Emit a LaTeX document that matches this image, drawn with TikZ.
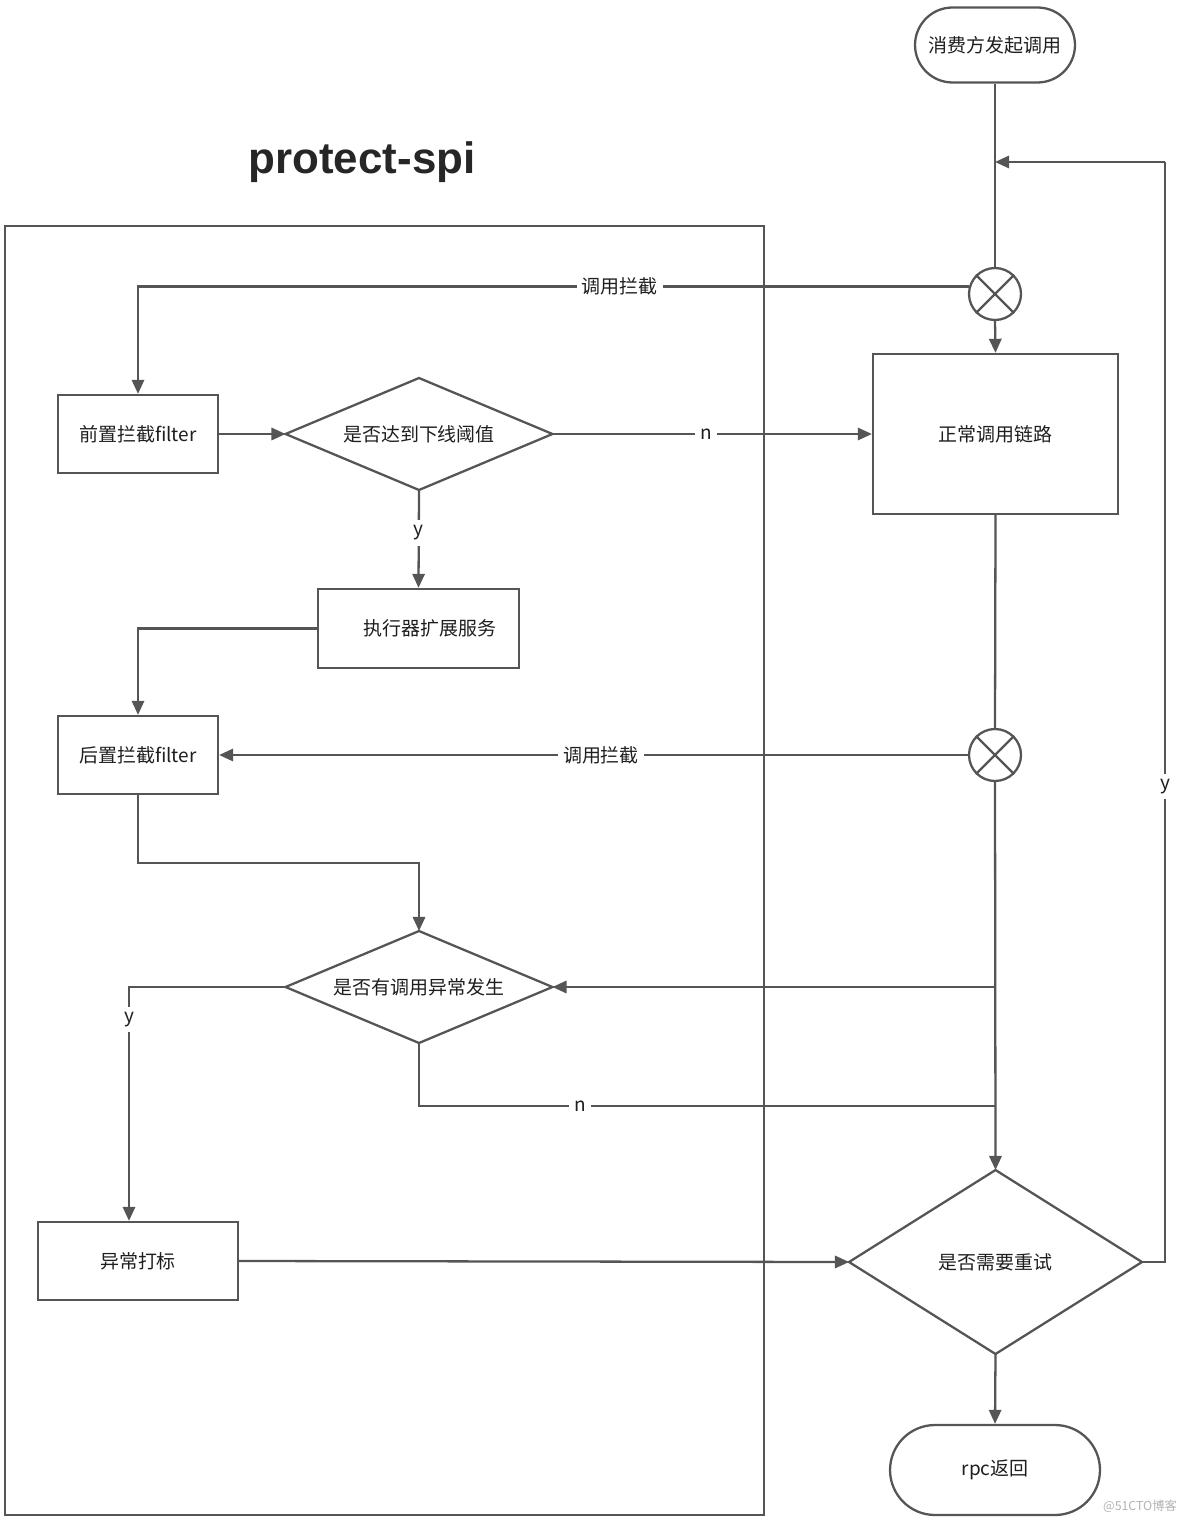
\documentclass[tikz,border=0pt]{standalone}
\usepackage{fontspec}
\setmainfont{Noto Sans CJK SC}
\newfontfamily\titlefont{Liberation Sans}
\usetikzlibrary{shapes,arrows.meta,positioning,calc}
\definecolor{linegray}{RGB}{85,85,85}
\definecolor{textdark}{RGB}{30,30,30}

\begin{document}
\begin{tikzpicture}[
    x=0.02cm, y=-0.02cm,
    font=\fontsize{10.8}{13}\selectfont, text=textdark,
    box/.style={rectangle, draw=linegray, line width=1.3pt, align=center},
    term/.style={rectangle, draw=linegray, line width=1.3pt, align=center},
    decision/.style={diamond, draw=linegray, line width=1.3pt, align=center, inner sep=0pt, outer sep=0pt},
    xcircle/.style={circle, draw=linegray, line width=1.3pt, minimum size=1.04cm, inner sep=0pt},
    lbl/.style={fill=white, inner sep=3pt},
    line/.style={draw=linegray, line width=1.3pt},
    arrow/.style={line, -{Triangle[length=8pt,width=7pt]}}
]
    \useasboundingbox (0,0) rectangle (1184,1520);

    % Frame and title
    \draw[line] (5,226) rectangle (764,1515);
    \node[font=\titlefont\bfseries\fontsize{25}{30}\selectfont, text=black!85] (title) at (362,162) {protect-spi};

    % Start / end
    \node[term, rounded corners=0.75cm, minimum width=3.2cm, minimum height=1.5cm] (start) at (995,45) {消费方发起调用};
    \node[term, rounded corners=0.9cm, minimum width=4.2cm, minimum height=1.8cm] (ret) at (995,1470) {rpc返回};

    % Interceptors
    \node[xcircle] (c1) at (995,294) {};
    \node[xcircle] (c2) at (995,755) {};
    \draw[line] (c1.north east) -- (c1.south west) (c1.north west) -- (c1.south east);
    \draw[line] (c2.north east) -- (c2.south west) (c2.north west) -- (c2.south east);

    % Normal call chain
    \node[box, minimum width=4.9cm, minimum height=3.2cm] (norm) at (995.5,434) {正常调用链路};

    % protect-spi steps
    \node[box, minimum width=3.2cm, minimum height=1.56cm] (pre) at (138,434) {前置拦截filter};
    \node[decision, aspect=2.4, minimum width=5.34cm, minimum height=2.24cm] (dia1) at (419,434) {是否达到下线阈值};
    \node[box, minimum width=4.02cm, minimum height=1.58cm] (exec) at (418.5,628.5) {\hspace{0.45cm}执行器扩展服务};
    \node[box, minimum width=3.2cm, minimum height=1.56cm] (post) at (138,755) {后置拦截filter};
    \node[decision, aspect=2.4, minimum width=5.34cm, minimum height=2.24cm] (dia2) at (419,987) {是否有调用异常发生};
    \node[box, minimum width=4.0cm, minimum height=1.56cm] (mark) at (138,1261) {异常打标};
    \node[decision, minimum width=5.86cm, minimum height=3.68cm] (dia3) at (995.5,1262) {是否需要重试};

    % Junctions
    \coordinate (rj) at (995,162);
    \coordinate (loop) at (1165,162);
    \coordinate (bj) at (995,987);
    \coordinate (nj) at (995,1106);

    % Arrows
    \draw[line] (start.south) -- (c1.north);
    \draw[arrow] (c1.south) -- (norm.north);
    \draw[arrow] (c1.164) -| node[lbl, pos=0.21] (l1) {调用拦截} (pre.north);
    \draw[arrow] (pre.east) -- (dia1.west);
    \draw[arrow] (dia1.east) -- node[lbl, pos=0.48] (n1) {n} (norm.west);
    \draw[arrow] (dia1.south) -- node[lbl, pos=0.44] (y1) {y} (exec.north);
    \draw[arrow] (exec.west) -| (post.north);
    \draw[line] (norm.south) -- (c2.north);
    \draw[arrow] (c2.west) -- node[lbl, pos=0.49] (l2) {调用拦截} (post.east);
    \draw[arrow] (post.south) -- ++(0,68) -| (dia2.north);
    \draw[arrow] (c2.south) -- (dia3.north);
    \draw[arrow] (bj) -- (dia2.east);
    \draw[line] (dia2.south) |- node[lbl, pos=0.64] (n2) {n} (nj);
    \draw[arrow] (dia2.west) -| node[lbl, pos=0.57] (y2) {y} ($(mark.north)+(-9,0)$);
    \draw[arrow] (mark.east) -- (dia3.west);
    \draw[line] (dia3.east) -| node[lbl, pos=0.716] (y3) {y} (loop);
    \draw[arrow] (loop) -- (rj);
    \draw[arrow] (dia3.south) -- (ret.north);

    % Watermark
    \node[text=black!30, font=\fontsize{7}{8}\selectfont] (wm) at (1140,1506) {@51CTO博客};
\end{tikzpicture}
\end{document}
